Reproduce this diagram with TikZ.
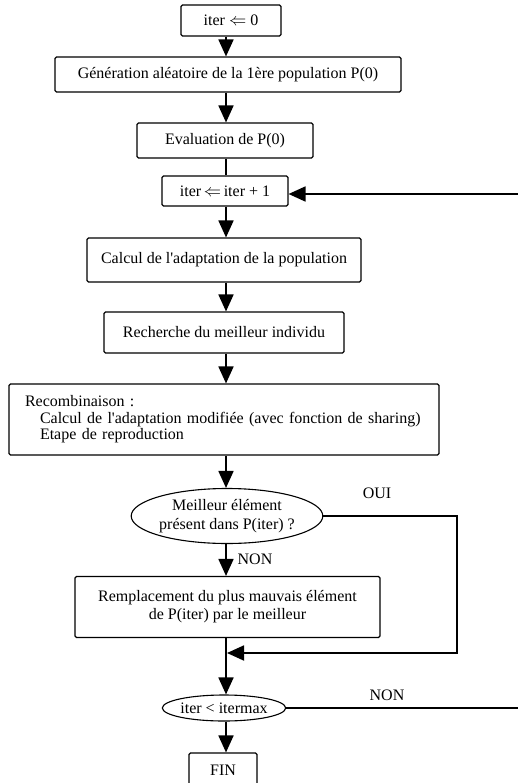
\documentclass[tikz,border=0pt]{standalone}
\usepackage{fontspec}
\setmainfont{Liberation Serif}
\usetikzlibrary{arrows.meta,shapes.geometric,calc}
\begin{document}
\begin{tikzpicture}[x=1pt,y=-1pt,
  txt/.style={font=\fontsize{16}{18.5}\selectfont},
  box/.style={txt,draw,line width=1.1pt,rounded corners=1.5pt,inner sep=0pt,align=center},
  oval/.style={txt,draw,ellipse,line width=1.1pt,inner sep=0pt,align=center},
  conn/.style={line width=1.8pt},
  arr/.style={conn,-{Triangle[length=17pt,width=15pt]}},
  lbl/.style={txt,inner sep=0pt}
]
\useasboundingbox (0,0) rectangle (517,783);
\coordinate (ax) at (226,0);

\node[box,minimum width=100,minimum height=31] (b1) at (231,20.5) {iter $\Leftarrow$ 0};
\node[box,minimum width=346,minimum height=35] (b2) at (228,74.5) {Génération aléatoire de la 1ère population P(0)};
\node[box,minimum width=176,minimum height=35] (b3) at (225,140.5) {Evaluation de P(0)};
\node[box,minimum width=126,minimum height=30] (b4) at (225,191) {iter\,$\Leftarrow$\,iter + 1};
\node[box,minimum width=274,minimum height=44] (b5) at (224,260) {Calcul de l\textquotesingle adaptation de la population};
\node[box,minimum width=240,minimum height=41] (b6) at (224,332.5) {Recherche du meilleur individu};
\node[box,minimum width=430,minimum height=71,align=left,text width=398,
      font=\fontsize{16}{16.5}\selectfont] (b7) at (224,419.5)
  {Recombinaison :\\\hspace*{15pt}Calcul de l\textquotesingle adaptation modifiée (avec fonction de sharing)\\\hspace*{15pt}Etape de reproduction};
\node[oval,minimum width=180,minimum height=55,font=\fontsize{16}{19}\selectfont] (e1) at (227,516) {Meilleur élément\\présent dans P(iter) ?};
\node[box,minimum width=305,minimum height=61,font=\fontsize{16}{18}\selectfont] (b8) at (227.5,607) {Remplacement du plus mauvais élément\\de P(iter) par le meilleur};
\node[oval,minimum width=115,minimum height=26] (e2) at (224,708) {iter < itermax};
\node[box,minimum width=68,minimum height=46,text height=10.6pt,text depth=12pt] (fin) at (223,776) {FIN};

\draw[arr] (b1.south -| ax) -- (b2.north -| ax);
\draw[arr] (b2.south -| ax) -- (b3.north -| ax);
\draw[conn] (b3.south -| ax) -- (b4.north -| ax);
\draw[arr] (b4.south -| ax) -- (b5.north -| ax);
\draw[arr] (b5.south -| ax) -- (b6.north -| ax);
\draw[arr] (b6.south -| ax) -- (b7.north -| ax);
\draw[arr] (b7.south -| ax) -- (e1.north -| ax);
\draw[arr] (e1.south -| ax) -- (b8.north -| ax);
\draw[arr] (b8.south -| ax) -- (e2.north -| ax);
\draw[arr] (e2.south -| ax) -- (fin.north -| ax);

\coordinate (r1) at (457,516);
\coordinate (r2) at (457,653);
\coordinate (m) at (227,653);
\draw[arr,line join=miter] (e1.east) -- (r1) -- (r2) -- (m);

\coordinate (r3) at (535,708);
\coordinate (r4) at (535,194);
\draw[arr,line join=miter] (e2.east) -- (r3) -- (r4) -- (r4 -| b4.east);

\node[lbl] (oui) at (377,493) {OUI};
\node[lbl] (non1) at (255,559) {NON};
\node[lbl] (non2) at (387,695) {NON};
\end{tikzpicture}
\end{document}
